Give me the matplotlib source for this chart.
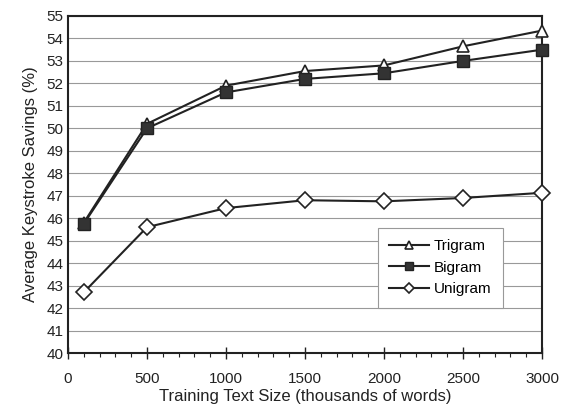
import matplotlib
matplotlib.use("Agg")
import matplotlib.pyplot as plt
from matplotlib.ticker import MultipleLocator

plt.rcParams['font.family'] = ['Liberation Sans', 'DejaVu Sans']

sizes = [100, 500, 1000, 1500, 2000, 2500, 3000]
trigram = [45.8, 50.2, 51.9, 52.55, 52.8, 53.65, 54.35]
bigram = [45.75, 50.0, 51.6, 52.2, 52.45, 53.0, 53.5]
unigram = [42.7, 45.6, 46.45, 46.8, 46.75, 46.9, 47.13]

fig = plt.figure(figsize=(5.69, 4.08), dpi=100)
ax = fig.add_axes([0.1195, 0.1348, 0.833, 0.826])

ax.plot(sizes, trigram, color='#222222', lw=1.5, marker='^', markersize=9,
        markerfacecolor='white', markeredgecolor='#222222', markeredgewidth=1.2,
        label='Trigram', zorder=3, clip_on=False)
ax.plot(sizes, bigram, color='#222222', lw=1.5, marker='s', markersize=8,
        markerfacecolor='#333333', markeredgecolor='#222222',
        label='Bigram', zorder=3, clip_on=False)
ax.plot(sizes, unigram, color='#222222', lw=1.5, marker='D', markersize=8,
        markerfacecolor='white', markeredgecolor='#222222', markeredgewidth=1.2,
        label='Unigram', zorder=3, clip_on=False)

ax.set_xlim(0, 3000)
ax.set_ylim(40, 55)
ax.xaxis.set_major_locator(MultipleLocator(500))
ax.xaxis.set_minor_locator(MultipleLocator(100))
ax.yaxis.set_major_locator(MultipleLocator(1))
ax.grid(axis='y', color='#999999', lw=0.8)
ax.set_axisbelow(True)

for s in ax.spines.values():
    s.set_color('#222222')
    s.set_linewidth(1.5)

ax.tick_params(axis='x', which='major', direction='inout', length=8, width=1, labelsize=11, pad=10, colors='#222222')
ax.tick_params(axis='x', which='minor', direction='out', length=3, width=0.8, colors='#222222')
ax.tick_params(axis='y', which='major', length=0, labelsize=11, pad=3, colors='#222222')

ax.set_xlabel('Training Text Size (thousands of words)', fontsize=12, color='#222222', labelpad=2)
ax.set_ylabel('Average Keystroke Savings (%)', fontsize=12, color='#222222', labelpad=6)

leg = ax.legend(loc='lower left', bbox_to_anchor=(0.654, 0.134), borderaxespad=0,
                fontsize=11, frameon=True, markerscale=0.65,
                fancybox=False, edgecolor='#999999', framealpha=1, handlelength=2.6,
                handletextpad=0.3, borderpad=0.75, labelspacing=0.5)
leg.get_frame().set_linewidth(0.8)

fig.savefig('out.png', dpi=100)
